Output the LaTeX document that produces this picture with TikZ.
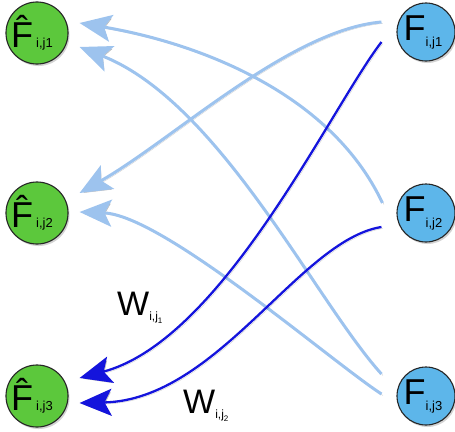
\documentclass[tikz,border=0pt]{standalone}
\usepackage{fontspec}
\setmainfont{Liberation Sans}
\usetikzlibrary{arrows.meta,shadows}
\definecolor{greenfill}{HTML}{5CC83C}
\definecolor{bluefill}{HTML}{5DB6EA}
\definecolor{lightarrow}{HTML}{9DC3EE}
\definecolor{darkarrow}{HTML}{1414DC}
\newcommand{\bigF}{\fontsize{36}{36}\selectfont}
\newcommand{\subtxt}{\fontsize{13}{13}\selectfont}
\newcommand{\hatF}{\accent"02C6 F}
\tikzset{
  basecirc/.style={circle, draw=black!85, line width=1.1pt, minimum size=58pt, inner sep=0pt,
    drop shadow={shadow xshift=1.5pt, shadow yshift=-2pt, opacity=0.35}},
  lnode/.style={basecirc, fill=greenfill},
  rnode/.style={basecirc, fill=bluefill},
  edgeshadow/.style={preaction={draw=black, opacity=0.18, transform canvas={xshift=1.5pt,yshift=-1.5pt}}},
  lightedge/.style={draw=lightarrow, line width=3pt, edgeshadow,
    -{Stealth[length=32pt,width=27pt,inset=7pt]}},
  darkedge/.style={draw=darkarrow, line width=2.3pt, edgeshadow,
    -{Stealth[length=32pt,width=27pt,inset=7pt]}},
  wlabel/.style={anchor=base west, inner sep=0pt, font=\fontsize{34}{34}\selectfont},
}
\begin{document}
\begin{tikzpicture}[x=1pt,y=-1pt]
\useasboundingbox (0,0) rectangle (455,431);
% left (target) nodes
\node[lnode] (L1) at (37,33)  {\bigF\hatF\hspace{3pt}{\subtxt i,j1}\hspace*{10pt}};
\node[lnode] (L2) at (37,213) {\bigF\hatF\hspace{3pt}{\subtxt i,j2}\hspace*{10pt}};
\node[lnode] (L3) at (37,396) {\bigF\hatF\hspace{3pt}{\subtxt i,j3}\hspace*{10pt}};
% right (source) nodes
\node[rnode] (R1) at (426,32)  {\bigF F\raisebox{-6pt}{\subtxt i,j1}\hspace*{6pt}};
\node[rnode] (R2) at (426,213) {\bigF F\raisebox{-6pt}{\subtxt i,j2}\hspace*{6pt}};
\node[rnode] (R3) at (426,396) {\bigF F\raisebox{-6pt}{\subtxt i,j3}\hspace*{6pt}};
% light blue connectors
\draw[lightedge] ([shift={(-15,-10)}]R1.west) .. controls +(-92,8) and +(93,-53) .. ([shift={(11,-20)}]L2.east);
\draw[lightedge] ([shift={(-14,-10)}]R2.west) .. controls +(-53,-113) and +(113,19) .. ([shift={(11,-10)}]L1.east);
\draw[lightedge] ([shift={(-15,-22)}]R3.west) .. controls +(-66,-73) and +(140,55) .. ([shift={(11,14)}]L1.east);
\draw[lightedge] ([shift={(-15,-2)}]R3.west) .. controls +(-52,-34) and +(83,3) .. ([shift={(11,-1)}]L2.east);
% dark blue connectors
\draw[darkedge] ([shift={(-15,10)}]R1.west) .. controls +(-52,68) and +(143,-38) .. ([shift={(11,-18)}]L3.east);
\draw[darkedge] ([shift={(-15,14)}]R2.west) .. controls +(-82,13) and +(138,-3) .. ([shift={(11,7)}]L3.east);
% weight labels
\node[wlabel] (w1) at (117,315) {W\raisebox{-5pt}{\fontsize{12}{12}\selectfont i,j\raisebox{-3pt}{\fontsize{8}{8}\selectfont 1}}};
\node[wlabel] (w2) at (183,413) {W\raisebox{-5pt}{\fontsize{12}{12}\selectfont i,j\raisebox{-3pt}{\fontsize{8}{8}\selectfont 2}}};
\end{tikzpicture}
\end{document}
